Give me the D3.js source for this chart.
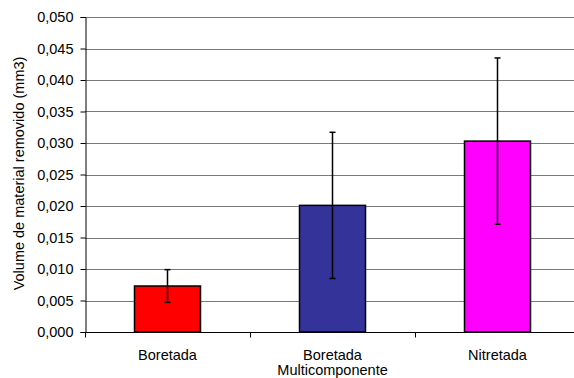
<!DOCTYPE html>
<html>
<head>
<meta charset="utf-8">
<script src="https://cdn.jsdelivr.net/npm/d3@7"></script>
<style>
  html, body { margin: 0; padding: 0; background: #fff; }
  svg { display: block; font-family: "Liberation Sans", Arial, sans-serif; }
</style>
</head>
<body>
<svg id="chart" width="574" height="378"></svg>
<script>
// Treatments and measured wear volume (mean and standard deviation)
const categories = [["Boretada"], ["Boretada", "Multicomponente"], ["Nitretada"]];
const means = [0.0073, 0.0201, 0.0303];
const deviations = [0.0026, 0.0116, 0.0132];
const colors = ["#ff0000", "#333399", "#ff00ff"];
const yTicks = [0, 0.005, 0.010, 0.015, 0.020, 0.025, 0.030, 0.035, 0.040, 0.045, 0.050];

const FONT = 14.5;
const svg = d3.select("#chart");
const margin = { left: 85, top: 17, right: -6, bottom: 46 };
const width = 574 - margin.left - margin.right;
const height = 378 - margin.top - margin.bottom;

const g = svg.append("g").attr("transform", `translate(${margin.left},${margin.top})`);

const x = d3.scaleBand().domain(d3.range(categories.length)).range([0, width]).paddingInner(0).paddingOuter(0);
const y = d3.scaleLinear().domain([0, 0.05]).range([height, 0]);

const fmt = v => d3.format(".3f")(v).replace(".", ",");

// horizontal gridlines
g.append("g")
  .selectAll("line")
  .data(yTicks.filter(t => t > 0))
  .join("line")
  .attr("x1", 0).attr("x2", width)
  .attr("y1", d => Math.round(y(d)) + 0.5).attr("y2", d => Math.round(y(d)) + 0.5)
  .attr("stroke", "#7a7a7a").attr("stroke-width", 1);

// y axis
const yAxis = g.append("g")
  .attr("transform", "translate(0.5,0)")
  .call(d3.axisLeft(y).tickValues(yTicks).tickFormat(fmt).tickSizeOuter(0).tickSize(5).tickPadding(7));
yAxis.select(".domain").attr("stroke", "#000");
yAxis.selectAll(".tick line").attr("stroke", "#000");
yAxis.selectAll(".tick text").attr("font-size", FONT).attr("fill", "#000")
  .attr("font-family", "'Liberation Sans', Arial, sans-serif");

// bars
const bw = x.bandwidth() * 0.4;
g.append("g")
  .selectAll("rect")
  .data(means)
  .join("rect")
  .attr("x", (d, i) => x(i) + (x.bandwidth() - bw) / 2)
  .attr("y", d => y(d))
  .attr("width", bw)
  .attr("height", d => height - y(d))
  .attr("fill", (d, i) => colors[i])
  .attr("stroke", "#000")
  .attr("stroke-width", 1.5);

// error bars
const err = g.append("g").attr("stroke", "#000").attr("stroke-width", 1.5);
means.forEach((m, i) => {
  const cx = x(i) + x.bandwidth() / 2;
  err.append("line").attr("x1", cx).attr("x2", cx)
    .attr("y1", y(m + deviations[i])).attr("y2", y(m - deviations[i]));
  [m + deviations[i], m - deviations[i]].forEach(v => {
    err.append("line").attr("x1", cx - 3).attr("x2", cx + 3)
      .attr("y1", y(v)).attr("y2", y(v));
  });
});

// x axis
const xAxisG = g.append("g").attr("transform", `translate(0,${height + 0.5})`);
xAxisG.append("line").attr("x1", 0).attr("x2", width).attr("stroke", "#000");
xAxisG.selectAll(".tk")
  .data(d3.range(categories.length + 1))
  .join("line")
  .attr("class", "tk")
  .attr("x1", i => Math.round(i * x.step()) + 0.5).attr("x2", i => Math.round(i * x.step()) + 0.5)
  .attr("y1", 0).attr("y2", 5)
  .attr("stroke", "#000");

const labels = xAxisG.selectAll(".cat")
  .data(categories)
  .join("text")
  .attr("class", "cat")
  .attr("text-anchor", "middle")
  .attr("font-size", FONT)
  .attr("fill", "#000")
  .attr("transform", (d, i) => `translate(${x(i) + x.bandwidth() / 2},27)`);
labels.selectAll("tspan")
  .data(d => d)
  .join("tspan")
  .attr("x", 0)
  .attr("dy", (d, j) => j === 0 ? 0 : 15)
  .text(d => d);

// y axis title
svg.append("text")
  .attr("transform", `translate(24,${margin.top + height / 2 - 1}) rotate(-90)`)
  .attr("text-anchor", "middle")
  .attr("font-size", FONT)
  .attr("fill", "#000")
  .text("Volume de material removido (mm3)");
</script>
</body>
</html>
